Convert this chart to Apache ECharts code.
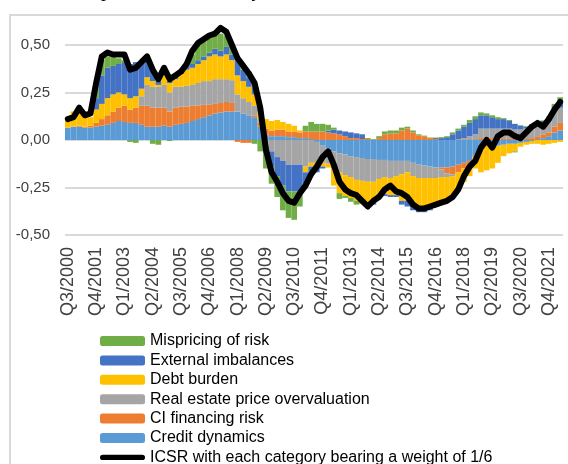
<!DOCTYPE html>
<html>
<head>
<meta charset="utf-8">
<script src="https://cdn.jsdelivr.net/npm/echarts@6/dist/echarts.min.js"></script>
<style>
  html, body { margin: 0; padding: 0; background: #fff; }
  #chart { width: 568px; height: 464px; }
</style>
</head>
<body>
<div id="chart"></div>
<script>
// quarters Q3/2000 .. Q2/2022
const quarters = []
for (let k = 0; k < 88; k++) {
  quarters.push('Q' + ((2 + k) % 4 + 1) + '/' + (2000 + Math.floor((2 + k) / 4)))
}

const creditDynamics = [
  0.065, 0.07, 0.07, 0.065, 0.065, 0.07, 0.075, 0.08, 0.09, 0.10,
  0.095, 0.09, 0.09, 0.08, 0.07, 0.07, 0.07, 0.075, 0.07, 0.08,
  0.085, 0.09, 0.10, 0.11, 0.12, 0.13, 0.14, 0.145, 0.15, 0.15,
  0.15, 0.14, 0.13, 0.12, 0.07, 0.03, 0.02, 0.02, 0.02, 0.015,
  0.015, 0.01, 0.01, 0.005, -0.01, -0.03, -0.045, -0.06, -0.07, -0.075,
  -0.085, -0.09, -0.095, -0.10, -0.10, -0.105, -0.105, -0.11, -0.11, -0.11,
  -0.11, -0.12, -0.13, -0.135, -0.14, -0.145, -0.145, -0.145, -0.14, -0.13,
  -0.12, -0.11, -0.08, -0.04, -0.03, -0.03, -0.03, -0.025, -0.02, -0.02,
  -0.015, -0.01, -0.005, 0.005, 0.01, 0.02, 0.04, 0.05
]
const ciFinancing = [
  0, 0, 0.005, 0.005, 0.01, 0.02, 0.035, 0.05, 0.06, 0.07,
  0.085, 0.07, 0.08, 0.10, 0.11, 0.10, 0.10, 0.095, 0.08, 0.09,
  0.09, 0.085, 0.08, 0.07, 0.065, 0.055, 0.05, 0.05, 0.05, 0.045,
  -0.01, -0.015, -0.015, 0.01, 0.02, 0.03, 0.03, 0.035, 0.035, 0.03,
  0.03, 0.03, 0.035, 0.04, 0.045, 0.045, 0.04, 0.035, 0.03, 0.02,
  0.01, 0.01, 0.005, 0.005, 0.002, 0.01, 0.03, 0.035, 0.035, 0.05,
  0.06, 0.04, 0.025, 0.02, 0.01, 0.005, -0.01, -0.03, -0.04, -0.04,
  -0.03, -0.02, -0.01, 0.01, 0.01, 0.01, 0.01, 0.005, 0.005, 0.005,
  0.005, 0.005, 0.01, 0.015, 0.02, 0.02, 0.03, 0.04
]
const realEstate = [
  0, 0, 0, 0, 0, 0, 0, 0, 0, 0,
  0, 0, 0, 0.05, 0.11, 0.11, 0.11, 0.12, 0.10, 0.11,
  0.105, 0.11, 0.11, 0.12, 0.125, 0.125, 0.13, 0.125, 0.12, 0.12,
  0.09, 0.08, 0.07, 0.05, 0.02, -0.03, -0.06, -0.09, -0.11, -0.13,
  -0.13, -0.13, -0.14, -0.12, -0.11, -0.09, -0.08, -0.09, -0.10, -0.11,
  -0.11, -0.12, -0.12, -0.12, -0.12, -0.10, -0.09, -0.09, -0.08, -0.07,
  -0.06, -0.07, -0.07, -0.065, -0.06, -0.055, -0.04, -0.02, -0.01, 0.005,
  0.01, 0.02, 0.03, 0.05, 0.05, 0.05, 0.05, 0.055, 0.055, 0.05,
  0.05, 0.055, 0.06, 0.06, 0.06, 0.06, 0.08, 0.08
]
const debtBurden = [
  0.045, 0.08, 0.085, 0.05, 0.045, 0.07, 0.08, 0.09, 0.09, 0.08,
  0.06, 0.06, 0.06, 0.04, 0.04, 0.03, 0.01, 0.05, 0.05, 0.04,
  0.07, 0.085, 0.09, 0.10, 0.11, 0.13, 0.13, 0.12, 0.13, 0.105,
  0.10, 0.09, 0.08, 0.06, 0.04, 0.05, 0.05, 0.05, 0.04, 0.04,
  0.03, 0.01, -0.03, -0.02, -0.03, -0.02, -0.02, -0.09, -0.11, -0.11,
  -0.11, -0.11, -0.11, -0.11, -0.11, -0.08, -0.09, -0.09, -0.10, -0.14,
  -0.15, -0.15, -0.15, -0.16, -0.16, -0.15, -0.13, -0.12, -0.11, -0.09,
  -0.07, -0.06, -0.06, -0.13, -0.13, -0.12, -0.09, -0.06, -0.05, -0.04,
  -0.02, -0.015, -0.015, -0.02, -0.025, -0.02, -0.015, -0.01
]
const externalImbalances = [
  0, 0, 0, 0, 0, 0.06, 0.15, 0.16, 0.15, 0.15,
  0.17, 0.18, 0.18, 0.14, 0.09, 0.06, 0.02, 0.03, 0.01, 0.02,
  0.02, 0.02, 0.02, 0.02, 0.02, 0.02, 0.03, 0.03, 0.04, 0.03,
  0.08, 0.06, 0.05, 0.04, 0.02, -0.04, -0.08, -0.10, -0.13, -0.14,
  -0.14, -0.14, -0.06, -0.05, -0.02, -0.01, 0.01, 0.02, 0.02, 0.025,
  0.03, 0.025, 0.025, -0.01, -0.01, -0.01, -0.01, -0.01, -0.01, -0.02,
  -0.03, -0.03, -0.03, -0.02, -0.01, 0.005, 0.01, 0.015, 0.03, 0.045,
  0.06, 0.07, 0.08, 0.07, 0.07, 0.06, 0.05, 0.05, 0.04, 0.03,
  0.02, 0.01, 0.01, 0.01, 0.01, 0.02, 0.03, 0.04
]
const mispricingRisk = [
  0, 0, 0, 0, 0, 0.08, 0.08, 0.06, 0.05, 0.03,
  0.01, -0.01, -0.015, 0, 0.005, -0.02, -0.025, 0, -0.005, 0.005,
  0, 0.01, 0.05, 0.08, 0.08, 0.08, 0.07, 0.09, 0.06, 0.05,
  0.01, 0.02, 0.03, -0.02, -0.06, -0.08, -0.09, -0.11, -0.13, -0.14,
  -0.15, -0.08, 0.03, 0.05, 0.04, 0.04, 0.03, 0.01, -0.03, -0.01,
  -0.02, -0.02, -0.01, 0.005, 0.003, 0.01, 0.015, 0.015, 0.015, 0.015,
  0.01, 0.01, 0.005, 0.003, 0.003, 0.003, 0.005, 0.005, 0.01, 0.01,
  0.01, 0.015, 0.015, 0.015, 0.01, 0.01, 0.01, 0.005, 0.005, -0.005,
  0.003, 0.003, 0.003, 0.003, 0.003, 0.003, 0.01, 0.015
]
const icsr = [
  0.11, 0.12, 0.17, 0.13, 0.14, 0.30, 0.44, 0.46, 0.45, 0.45,
  0.45, 0.37, 0.38, 0.41, 0.44, 0.37, 0.32, 0.38, 0.32, 0.34,
  0.36, 0.40, 0.47, 0.51, 0.53, 0.55, 0.56, 0.59, 0.57, 0.50,
  0.43, 0.39, 0.35, 0.30, 0.17, -0.05, -0.17, -0.22, -0.28, -0.32,
  -0.33, -0.28, -0.24, -0.18, -0.14, -0.09, -0.06, -0.13, -0.22, -0.26,
  -0.28, -0.29, -0.32, -0.35, -0.32, -0.30, -0.26, -0.24, -0.27, -0.28,
  -0.30, -0.34, -0.36, -0.36, -0.35, -0.34, -0.33, -0.32, -0.30, -0.26,
  -0.19, -0.14, -0.11, -0.04, 0.00, -0.04, 0.02, 0.04, 0.04, 0.02,
  0.01, 0.04, 0.07, 0.09, 0.07, 0.11, 0.16, 0.20
]

const yTicks = [-0.5, -0.25, 0, 0.25, 0.5]

const FONT = '"Liberation Sans", Arial, sans-serif'
const names = {
  misp: 'Mispricing of risk',
  ext: 'External imbalances',
  debt: 'Debt burden',
  re: 'Real estate price overvaluation',
  ci: 'CI financing risk',
  credit: 'Credit dynamics',
  line: 'ICSR with each category bearing a weight of 1/6',
}

function barSeries(name, data, color) {
  return {
    name, type: 'bar', stack: 'total', data,
    barCategoryGap: '0%', clip: false,
    itemStyle: { color },
    emphasis: { disabled: true },
  }
}

const chart = echarts.init(document.getElementById('chart'), null, { renderer: 'canvas' })
chart.setOption({
  animation: false,
  graphic: [
    { type: 'rect', silent: true, shape: { x: 10, y: 15, width: 700, height: 600 },
      style: { fill: 'none', stroke: '#d9d9d9', lineWidth: 2 } },
    { type: 'text', silent: true, x: 62, y: 1,
      style: { text: 'Composition of ICSR by', font: '20px "Liberation Serif", serif', fill: '#000', verticalAlign: 'bottom' } },
  ],
  grid: { left: 65, right: 5, top: 45, bottom: 229 },
  xAxis: {
    type: 'category', data: quarters,
    axisLine: { show: false }, axisTick: { show: false },
    axisLabel: { interval: 4, rotate: 90, margin: 12, fontSize: 18, color: '#404040', fontFamily: FONT },
    splitLine: { show: false },
  },
  yAxis: {
    type: 'value', min: yTicks[0], max: yTicks[yTicks.length - 1], interval: 0.25,
    axisLine: { show: false }, axisTick: { show: false },
    axisLabel: { margin: 15, fontSize: 15, color: '#404040', fontFamily: FONT,
      formatter: v => v.toFixed(2).replace('.', ',') },
    splitLine: { lineStyle: { color: '#d9d9d9', width: 2 } },
  },
  legend: {
    orient: 'vertical', left: 100, top: 333, height: 160, padding: 0,
    itemWidth: 45, itemHeight: 10, itemGap: 3.4,
    textStyle: { fontSize: 16, lineHeight: 16, color: '#000', fontFamily: FONT },
    data: [
      names.misp, names.ext, names.debt, names.re, names.ci, names.credit,
      { name: names.line, icon: 'path://M3,0L47,0A3,3,0,0,1,47,6L3,6A3,3,0,0,1,3,0Z' },
    ],
  },
  series: [
    barSeries(names.credit, creditDynamics, '#5B9BD5'),
    barSeries(names.ci, ciFinancing, '#ED7D31'),
    barSeries(names.re, realEstate, '#A5A5A5'),
    barSeries(names.debt, debtBurden, '#FFC000'),
    barSeries(names.ext, externalImbalances, '#4472C4'),
    barSeries(names.misp, mispricingRisk, '#70AD47'),
    {
      name: names.line, type: 'line', data: icsr, z: 10, clip: false,
      symbol: 'none', smooth: false,
      itemStyle: { color: '#000' },
      lineStyle: { color: '#000', width: 6, cap: 'round', join: 'round' },
      emphasis: { disabled: true },
    },
  ],
})
</script>
</body>
</html>
